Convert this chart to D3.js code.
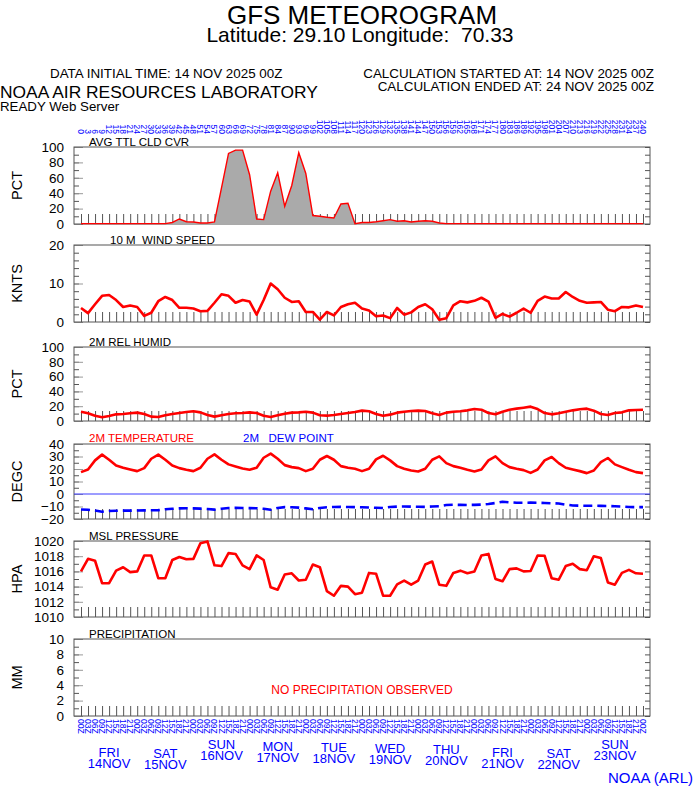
<!DOCTYPE html>
<html>
<head>
<meta charset="utf-8">
<script src="https://cdn.jsdelivr.net/npm/d3@7"></script>
<style>
  body { margin: 0; background: #fff; }
  svg { display: block; font-family: "Liberation Sans", Arial, Helvetica, sans-serif; }
  .pre { white-space: pre; }
</style>
</head>
<body>
<div id="chart"></div>
<script>
// ---- data (one value every 3 h, 0..240 h) ----
const hours = [0, 3, 6, 9, 12, 15, 18, 21, 24, 27, 30, 33, 36, 39, 42, 45, 48, 51, 54, 57,
  60, 63, 66, 69, 72, 75, 78, 81, 84, 87, 90, 93, 96, 99, 102, 105, 108, 111, 114, 117,
  120, 123, 126, 129, 132, 135, 138, 141, 144, 147, 150, 153, 156, 159, 162, 165, 168, 171, 174, 177,
  180, 183, 186, 189, 192, 195, 198, 201, 204, 207, 210, 213, 216, 219, 222, 225, 228, 231, 234, 237, 240];

const cloudCover = [0.5, 0.5, 0.5, 0.5, 0.5, 0.5, 0.5, 0.5, 0.5, 0.5, 0.5, 0.5, 0.5, 2, 6.5, 3, 2.6, 1.3, 1.3, 2.6,
  47, 91.7, 96, 96, 64, 6.5, 5.7, 42.6, 66.5, 23, 50, 92.6, 65.6, 11, 10, 8.7, 7.8, 26, 27, 0.4,
  2, 2, 3, 4.3, 5.7, 3.5, 4.3, 2.6, 3.5, 4.3, 3.5, 1.3, 0.5, 0.5, 0.5, 0.5, 0.5, 0.5, 0.5, 0.5,
  0.5, 0.5, 0.5, 0.5, 0.5, 0.5, 0.5, 0.5, 0.5, 0.5, 0.5, 0.5, 0.5, 0.5, 0.5, 0.5, 0.5, 0.5, 0.5, 0.5, 0.5];

const windSpeed = [3.65, 2.3, 4.6, 6.8, 7.0, 5.7, 3.9, 4.3, 3.9, 1.6, 2.4, 5.4, 6.5, 5.7, 3.7, 3.7, 3.5, 2.8, 2.9, 5.0,
  7.2, 6.8, 5.0, 5.7, 5.3, 1.9, 5.7, 10.0, 8.5, 6.3, 5.2, 5.4, 2.6, 2.6, 0.6, 2.6, 1.7, 3.9, 4.6, 5.0,
  3.5, 3.0, 1.5, 1.7, 1.0, 3.65, 1.9, 2.5, 3.9, 4.6, 3.3, 0.6, 1.0, 4.3, 5.4, 5.1, 5.5, 6.3, 5.3, 1.1,
  2.1, 1.4, 2.4, 3.5, 2.4, 5.5, 6.6, 6.1, 6.1, 7.8, 6.5, 5.5, 5.0, 5.1, 5.2, 3.2, 2.8, 3.9, 3.8, 4.3, 3.9];

const relHumid = [12.6, 10.4, 7.2, 5.0, 6.8, 9.0, 9.5, 10.4, 11.3, 9.5, 5.9, 5.4, 7.7, 9.5, 10.8, 12.2, 13.1, 11.7, 8.1, 5.9,
  7.7, 9.5, 10.4, 10.8, 11.7, 10.8, 7.2, 5.4, 7.7, 9.9, 11.3, 11.7, 12.6, 11.3, 7.7, 7.2, 8.1, 9.5, 10.8, 12.2,
  14.0, 13.1, 9.5, 7.2, 8.6, 11.3, 12.6, 13.5, 14.0, 13.5, 10.4, 8.1, 11.3, 12.6, 13.1, 14.4, 16.2, 15.3, 10.8, 9.0,
  12.6, 15.3, 16.7, 18.0, 19.4, 16.2, 10.8, 9.0, 10.4, 12.6, 14.4, 15.8, 16.7, 14.0, 9.5, 8.1, 10.8, 11.7, 14.4, 14.9, 15.3];

const temperature = [17.5, 19.6, 26.9, 31.5, 27.4, 22.8, 21.0, 19.6, 18.3, 20.7, 28.2, 31.5, 27.4, 22.8, 20.7, 19.4, 18.3, 21.0, 28.2, 31.7,
  27.4, 23.7, 22.0, 20.4, 19.4, 21.0, 29.0, 32.3, 28.2, 23.1, 21.5, 20.7, 18.3, 20.2, 27.4, 30.4, 27.4, 22.3, 21.0, 20.2,
  18.3, 20.2, 27.7, 30.6, 26.9, 22.3, 20.2, 18.8, 18.0, 20.2, 27.4, 30.1, 24.7, 22.3, 21.0, 19.4, 18.0, 19.6, 26.9, 30.1,
  24.7, 21.5, 20.2, 19.1, 16.9, 19.6, 26.9, 29.6, 24.7, 21.0, 19.6, 18.3, 16.7, 18.8, 25.5, 28.8, 23.7, 21.5, 19.4, 17.5, 16.7];

const dewPoint = [-12.4, -12.6, -13.2, -14.2, -13.6, -13.4, -13.3, -13.3, -13.2, -13.1, -13.0, -12.9, -12.2, -11.8, -11.5, -11.4, -11.5, -11.7, -12.0, -12.5,
  -11.8, -11.2, -11.1, -11.2, -11.3, -11.4, -11.8, -12.6, -11.2, -10.5, -10.6, -10.9, -11.5, -12.2, -11.2, -10.6, -10.4, -10.3, -10.4, -10.5,
  -10.6, -10.8, -11.0, -11.2, -10.4, -10.1, -10.0, -10.1, -10.2, -10.3, -10.0, -9.8, -8.8, -8.6, -8.7, -8.8, -8.7, -8.5, -8.0, -7.2,
  -6.2, -6.6, -7.0, -7.0, -6.9, -7.0, -7.2, -7.4, -7.6, -8.5, -9.2, -9.3, -9.4, -9.4, -9.5, -9.6, -9.8, -10.0, -10.4, -10.5, -10.5];

const pressure = [1016.0, 1017.65, 1017.4, 1014.45, 1014.45, 1016.1, 1016.55, 1015.9, 1016.0, 1018.1,
  1018.1, 1015.1, 1015.1, 1017.5, 1017.9, 1017.6, 1017.65, 1019.7, 1019.95, 1016.8,
  1016.7, 1018.4, 1018.3, 1016.8, 1016.3, 1018.1, 1017.5, 1013.9, 1013.6, 1015.6,
  1015.75, 1014.8, 1014.9, 1016.9, 1016.55, 1013.4, 1012.8, 1014.1, 1014.0, 1013.0,
  1013.2, 1015.8, 1015.7, 1012.8, 1012.8, 1014.3, 1014.8, 1014.25, 1014.8, 1016.9,
  1017.3, 1014.25, 1014.1, 1015.8, 1016.1, 1015.75, 1016.0, 1018.1, 1018.3, 1015.0,
  1014.7, 1016.3, 1016.4, 1016.0, 1016.05, 1018.1, 1018.05, 1015.1, 1014.9, 1016.7,
  1017.0, 1016.3, 1016.15, 1018.0, 1017.75, 1014.55, 1014.25, 1015.8, 1016.2, 1015.75, 1015.7];

// tick labels
const cloudTicks = [0, 20, 40, 60, 80, 100];
const windTicks = [0, 10, 20];
const rhTicks = [0, 20, 40, 60, 80, 100];
const tempTicks = [-20, -10, 0, 10, 20, 30, 40];
const presTicks = [1010, 1012, 1014, 1016, 1018, 1020];
const precipTicks = [0, 2, 4, 6, 8, 10];

const dayNames = ["FRI", "SAT", "SUN", "MON", "TUE", "WED", "THU", "FRI", "SAT", "SUN"];
const dayDates = ["14NOV", "15NOV", "16NOV", "17NOV", "18NOV", "19NOV", "20NOV", "21NOV", "22NOV", "23NOV"];

// ---- layout ----
const width = 694, height = 788,
    frameLeft = 74, frameRight = 650,
    red = "#ff0000", blue = "#0000ff", frameColor = "#555";

const x = d3.scaleLinear().domain([0, 240]).range([81, 643]);

const panels = [
  {top: 147, bottom: 224, domain: [0, 100], ticks: cloudTicks, minor: 10, unit: "PCT", title: "AVG TTL CLD CVR", titleX: 89},
  {top: 245, bottom: 322, domain: [0, 20], ticks: windTicks, minor: 2, unit: "KNTS", title: "10 M  WIND SPEED", titleX: 110},
  {top: 347, bottom: 421, domain: [0, 100], ticks: rhTicks, minor: 10, unit: "PCT", title: "2M REL HUMID", titleX: 89},
  {top: 444, bottom: 519, domain: [-20, 40], ticks: tempTicks, minor: 5, unit: "DEGC", title: null, titleX: 89},
  {top: 541, bottom: 617, domain: [1010, 1020], ticks: presTicks, minor: 1, unit: "HPA", title: "MSL PRESSURE", titleX: 89},
  {top: 639, bottom: 716, domain: [0, 10], ticks: precipTicks, minor: 1, unit: "MM", title: "PRECIPITATION", titleX: 89}
];

// stagger of the day labels, by weekday
const dayDy = {SUN: 0, MON: 2, TUE: 3, WED: 4, THU: 5, FRI: 8, SAT: 9};

const svg = d3.select("#chart").append("svg")
    .attr("width", width)
    .attr("height", height);

// ---- header ----
svg.append("text").attr("x", 362).attr("y", 23.5).attr("text-anchor", "middle")
    .attr("font-size", 26).text("GFS METEOROGRAM");
svg.append("text").classed("pre", true).attr("x", 360).attr("y", 42).attr("text-anchor", "middle")
    .attr("font-size", 21).text("Latitude: 29.10 Longitude:  70.33");
svg.append("text").attr("x", 50).attr("y", 78).attr("font-size", 13.4)
    .text("DATA INITIAL TIME: 14 NOV 2025 00Z");
svg.append("text").attr("x", 654).attr("y", 78).attr("text-anchor", "end").attr("font-size", 13.4)
    .text("CALCULATION STARTED AT: 14 NOV 2025 00Z");
svg.append("text").attr("x", 654).attr("y", 91).attr("text-anchor", "end").attr("font-size", 13.4)
    .text("CALCULATION ENDED AT: 24 NOV 2025 00Z");
svg.append("text").attr("x", 0).attr("y", 98).attr("font-size", 17.4)
    .text("NOAA AIR RESOURCES LABORATORY");
svg.append("text").attr("x", 0).attr("y", 110.5).attr("font-size", 13.3)
    .text("READY Web Server");

// forecast hour labels across the top
svg.append("g").selectAll("text")
    .data(hours)
    .join("text")
    .attr("transform", d => `translate(${x(d)},134) rotate(90)`)
    .attr("text-anchor", "end")
    .attr("dy", "0.35em")
    .attr("font-size", 8.5)
    .attr("fill", blue)
    .text(d => d);

// ---- panels ----
panels.forEach(p => {
  const y = d3.scaleLinear().domain(p.domain).range([p.bottom, p.top]);
  p.y = y;
  const g = svg.append("g");
  const minorVals = d3.range(p.domain[0], p.domain[1] + 1e-6, p.minor);

  // hour ticks standing on the bottom of the frame
  g.append("g")
      .attr("transform", `translate(0,${p.bottom})`)
      .call(d3.axisBottom(x).tickValues(hours).tickSize(-10).tickFormat(""))
      .call(a => a.select(".domain").remove())
      .call(a => a.selectAll("line").attr("stroke", frameColor));

  // left and right inner ticks
  g.append("g")
      .attr("transform", `translate(${frameLeft},0)`)
      .call(d3.axisLeft(y).tickValues(minorVals).tickSize(-5).tickFormat(""))
      .call(a => a.select(".domain").remove())
      .call(a => a.selectAll("line").attr("stroke", frameColor));
  g.append("g")
      .attr("transform", `translate(${frameRight},0)`)
      .call(d3.axisRight(y).tickValues(minorVals).tickSize(-5).tickFormat(""))
      .call(a => a.select(".domain").remove())
      .call(a => a.selectAll("line").attr("stroke", frameColor));
  g.append("g")
      .attr("transform", `translate(${frameLeft},0)`)
      .call(d3.axisLeft(y).tickValues(p.ticks).tickSize(-9).tickPadding(10).tickFormat(d3.format("d")))
      .call(a => a.select(".domain").remove())
      .call(a => a.selectAll("line").attr("stroke", "#999"))
      .call(a => a.selectAll("text").attr("font-size", 13.5).attr("fill", "#000")
          .attr("font-family", "Liberation Sans, Arial, sans-serif"));

  // frame
  g.append("rect")
      .attr("x", frameLeft).attr("y", p.top)
      .attr("width", frameRight - frameLeft).attr("height", p.bottom - p.top)
      .attr("fill", "none").attr("stroke", frameColor);

  // unit label
  g.append("text")
      .attr("transform", `translate(22,${(p.top + p.bottom) / 2}) rotate(-90)`)
      .attr("text-anchor", "middle")
      .attr("font-size", 14.5)
      .text(p.unit);

  if (p.title) {
    g.append("text").classed("pre", true)
        .attr("x", p.titleX).attr("y", p.top - 1)
        .attr("font-size", 11.5)
        .text(p.title);
  }
});

const [cloudP, windP, rhP, tempP, presP, precipP] = panels;

// cloud cover: grey area with red outline
const cloudData = hours.map((h, i) => ({h, v: cloudCover[i]}));
svg.append("path")
    .datum(cloudData)
    .attr("fill", "#aaaaaa")
    .attr("d", d3.area().x(d => x(d.h)).y0(cloudP.y(0)).y1(d => cloudP.y(d.v)));
svg.append("path")
    .datum(cloudData)
    .attr("fill", "none").attr("stroke", red).attr("stroke-width", 1.4)
    .attr("d", d3.line().x(d => x(d.h)).y(d => cloudP.y(d.v)));

function drawLine(panel, values, color, dash) {
  svg.append("path")
      .datum(hours.map((h, i) => ({h, v: values[i]})))
      .attr("fill", "none")
      .attr("stroke", color)
      .attr("stroke-width", 2.6)
      .attr("stroke-linejoin", "round")
      .attr("stroke-dasharray", dash || null)
      .attr("d", d3.line().x(d => x(d.h)).y(d => panel.y(d.v)));
}

drawLine(windP, windSpeed, red);
drawLine(rhP, relHumid, red);

// zero line of the temperature panel
svg.append("line")
    .attr("x1", frameLeft).attr("x2", frameRight)
    .attr("y1", tempP.y(0)).attr("y2", tempP.y(0))
    .attr("stroke", "#3a3aff").attr("stroke-width", 1);
drawLine(tempP, temperature, red);
drawLine(tempP, dewPoint, blue, "9,5");
svg.append("text").attr("x", 89).attr("y", tempP.top - 2).attr("font-size", 11.5)
    .attr("fill", red).text("2M TEMPERATURE");
svg.append("text").classed("pre", true).attr("x", 243).attr("y", tempP.top - 2).attr("font-size", 11.5)
    .attr("fill", blue).text("2M   DEW POINT");

drawLine(presP, pressure, red);

svg.append("text")
    .attr("x", 362).attr("y", (precipP.top + precipP.bottom) / 2 + 16)
    .attr("text-anchor", "middle").attr("font-size", 12).attr("fill", red)
    .text("NO PRECIPITATION OBSERVED");

// ---- bottom time axis ----
svg.append("g").selectAll("text")
    .data(hours)
    .join("text")
    .attr("transform", d => `translate(${x(d)},719) rotate(90)`)
    .attr("dy", "0.35em")
    .attr("font-size", 8.5)
    .attr("fill", blue)
    .text(d => d3.format("02d")(d % 24) + "Z");

const dayG = svg.append("g").attr("fill", blue).attr("text-anchor", "middle").attr("font-size", 13);
dayNames.forEach((name, i) => {
  const cx = x(12 + 24 * i), dy = dayDy[name];
  dayG.append("text").attr("x", cx).attr("y", 749 + dy).text(name);
  dayG.append("text").attr("x", cx).attr("y", 760 + dy).text(dayDates[i]);
});

svg.append("text").attr("x", 693).attr("y", 783).attr("text-anchor", "end")
    .attr("font-size", 15).attr("fill", blue).text("NOAA (ARL)");
</script>
</body>
</html>
